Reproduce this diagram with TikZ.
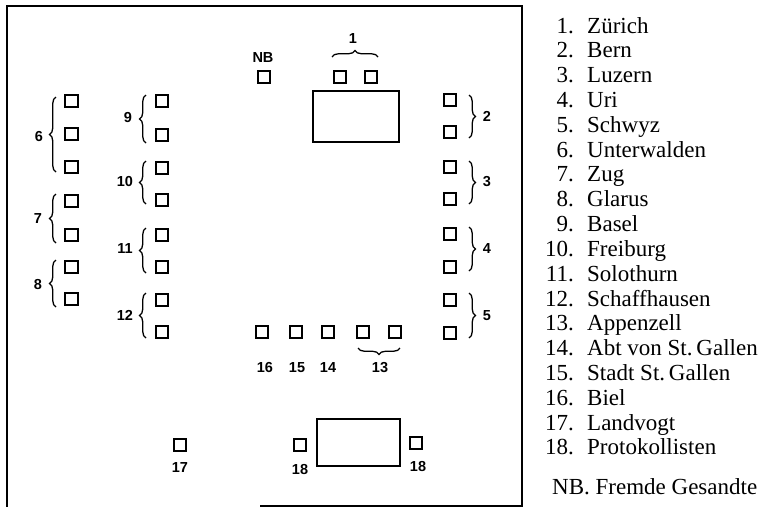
\documentclass[tikz,border=0pt]{standalone}
\usepackage{fontspec}
\setmainfont{Liberation Serif}
\newfontfamily\labelfont{Liberation Sans}
\usetikzlibrary{decorations.pathreplacing}
\begin{document}
\begin{tikzpicture}[x=1pt,y=-1pt,
  seat/.style={draw,line width=1.6pt,minimum size=12.5pt,inner sep=0pt},
  tbl/.style={draw,line width=1.8pt,inner sep=0pt},
  num/.style={font=\labelfont\bfseries\fontsize{14.5}{14.5}\selectfont,inner sep=0pt},
  brc/.style={decorate,decoration={brace,amplitude=6.5pt},line width=1.3pt},
  leg/.style={font=\fontsize{23}{23}\selectfont,inner sep=0pt}]
\useasboundingbox (0,0) rectangle (761,507);
% room outline
\draw[line width=1.5pt] (260,506) -- (522,506) -- (522,6) -- (7,6) -- (7,507);
% tables
\node[tbl,minimum width=86pt,minimum height=51pt] (tabletop) at (356,116.5) {};
\node[tbl,minimum width=83pt,minimum height=47pt] (tablebot) at (358.5,442.5) {};
% left outer column (6,7,8)
\foreach \n/\y in {a/101,b/134,c/167,d/201,e/235,f/267,g/299}
  \node[seat] (L\n) at (71.5,\y) {};
% left inner column (9-12)
\foreach \n/\y in {a/101,b/135,c/168,d/200,e/235,f/267,g/300,h/332}
  \node[seat] (M\n) at (162,\y) {};
% right column (2-5)
\foreach \n/\y in {a/100,b/132,c/167,d/199,e/234,f/267,g/300,h/333}
  \node[seat] (R\n) at (450,\y) {};
% top seats
\node[seat] (NBs) at (264,77) {};
\node[seat] (Za) at (340,77) {};
\node[seat] (Zb) at (371,77) {};
% bottom row
\foreach \n/\x in {a/262,b/296,c/328,d/363,e/395}
  \node[seat] (B\n) at (\x,332) {};
% Landvogt and Protokollisten
\node[seat] (LV) at (180,445) {};
\node[seat] (PLa) at (300,445) {};
\node[seat] (PLb) at (416,443) {};
% braces
\draw[brc] (56,172) -- (56,97);
\draw[brc] (56,243) -- (56,194);
\draw[brc] (56,307) -- (56,260);
\draw[brc] (146,143) -- (146,95);
\draw[brc] (146,204) -- (146,161);
\draw[brc] (146,273) -- (146,228);
\draw[brc] (146,338) -- (146,293);
\draw[brc] (469,95) -- (469,138);
\draw[brc] (469,161) -- (469,204);
\draw[brc] (469,227) -- (469,271);
\draw[brc] (469,293) -- (469,338);
\draw[brc] (332,57) -- (378,57);
\draw[brc] (400,348) -- (358,348);
% seat labels
\node[num] (l6) at (39,137) {6};
\node[num] (l7) at (38,219) {7};
\node[num] (l8) at (38,285) {8};
\node[num] (l9) at (128,118) {9};
\node[num] (l10) at (125,182) {10};
\node[num] (l11) at (125,249) {11};
\node[num] (l12) at (125,315) {12};
\node[num] (l2) at (487,116) {2};
\node[num] (l3) at (487,182) {3};
\node[num] (l4) at (487,249) {4};
\node[num] (l5) at (487,316) {5};
\node[num] (l1) at (353,39) {1};
\node[num] (lNB) at (263,58) {NB};
\node[num] (l16) at (265,368) {16};
\node[num] (l15) at (297,368) {15};
\node[num] (l14) at (328,368) {14};
\node[num] (l13) at (380,368) {13};
\node[num] (l17) at (180,468) {17};
\node[num] (l18a) at (300,470) {18};
\node[num] (l18b) at (418,467) {18};
% legend
\foreach \i/\t in {1/Zürich,2/Bern,3/Luzern,4/Uri,5/Schwyz,6/Unterwalden,7/Zug,8/Glarus,9/Basel,10/Freiburg,11/Solothurn,12/Schaffhausen,13/Appenzell,14/Abt von St.\,Gallen,15/Stadt St.\,Gallen,16/Biel,17/Landvogt,18/Protokollisten}{
  \pgfmathsetmacro{\yy}{33+24.82*(\i-1)}
  \node[leg,anchor=base east] (ln\i) at (574,\yy) {\i.};
  \node[leg,anchor=base west] (lt\i) at (587,\yy) {\t};
}
\node[leg,anchor=base west] (lnb) at (552,494) {NB. Fremde Gesandte};
\end{tikzpicture}
\end{document}
